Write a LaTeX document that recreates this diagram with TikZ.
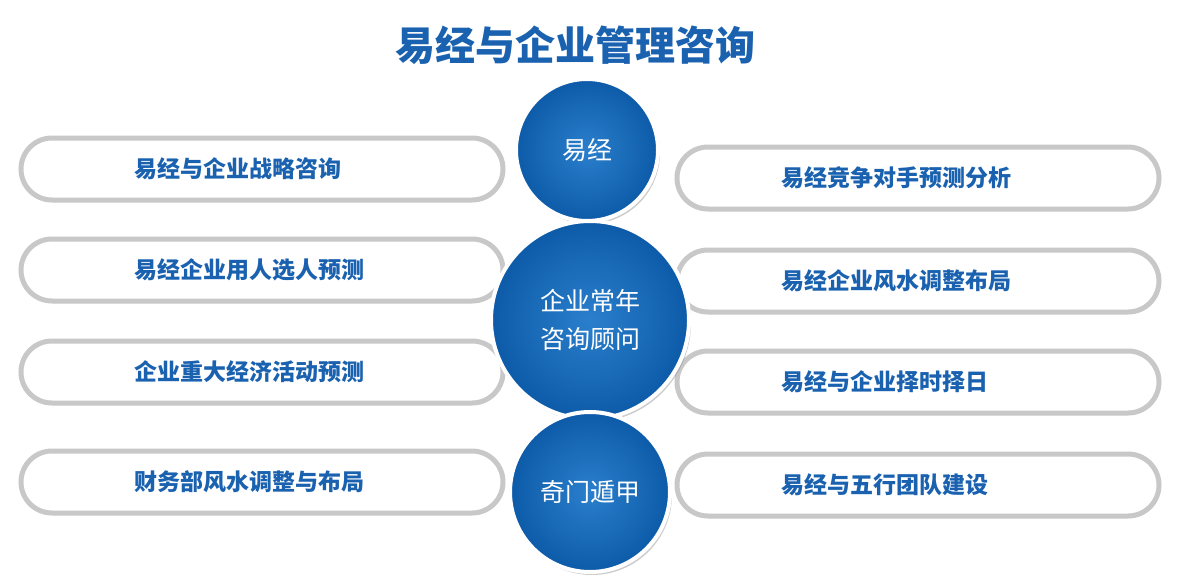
\documentclass[tikz,border=0pt]{standalone}
\usepackage{fontspec}
\setmainfont{Noto Sans CJK SC}
\usetikzlibrary{shadows}
\definecolor{tblue}{HTML}{1A62B0}
\definecolor{cblue}{HTML}{2A7FCC}
\definecolor{cdark}{HTML}{0D5BA8}
\definecolor{pgray}{HTML}{C8C8C8}
\tikzset{
 pill/.style={draw=pgray,line width=5pt,fill=white,rounded corners=31pt,minimum width=482pt,minimum height=62pt,
   text width=420pt,align=left,
   font=\fontsize{23}{26}\selectfont\bfseries,text=tblue,drop shadow={shadow xshift=1pt,shadow yshift=-2pt,opacity=0.3}},
 ball/.style={circle,draw=white,line width=4pt,inner color=cblue,outer color=cdark,text=white,align=center,
   font=\fontsize{25}{38}\selectfont,drop shadow={shadow xshift=2pt,shadow yshift=-3pt,opacity=0.4}}
}
\begin{document}
\begin{tikzpicture}[x=1pt,y=-1pt]
\useasboundingbox[fill=white] (0,0) rectangle (1177,583);
\node[font=\fontsize{40}{46}\selectfont\bfseries,text=tblue] (title) at (575,45) {易经与企业管理咨询};
\node[pill] (l1) at (262,169) {\hspace*{82pt}易经与企业战略咨询};
\node[pill] (l2) at (262,270) {\hspace*{82pt}易经企业用人选人预测};
\node[pill] (l3) at (262,372) {\hspace*{82pt}企业重大经济活动预测};
\node[pill] (l4) at (262,482) {\hspace*{82pt}财务部风水调整与布局};
\node[pill] (r1) at (918,178) {\hspace*{73pt}易经竞争对手预测分析};
\node[pill] (r2) at (918,281) {\hspace*{73pt}易经企业风水调整布局};
\node[pill] (r3) at (918,382) {\hspace*{73pt}易经与企业择时择日};
\node[pill] (r4) at (918,485) {\hspace*{73pt}易经与五行团队建设};
\node[ball,minimum size=142pt] (c1) at (587,150) {易经};
\node[ball,minimum size=198pt] (c2) at (590,320) {企业常年\\咨询顾问};
\node[ball,minimum size=160pt] (c3) at (590,492) {奇门遁甲};
\end{tikzpicture}
\end{document}
